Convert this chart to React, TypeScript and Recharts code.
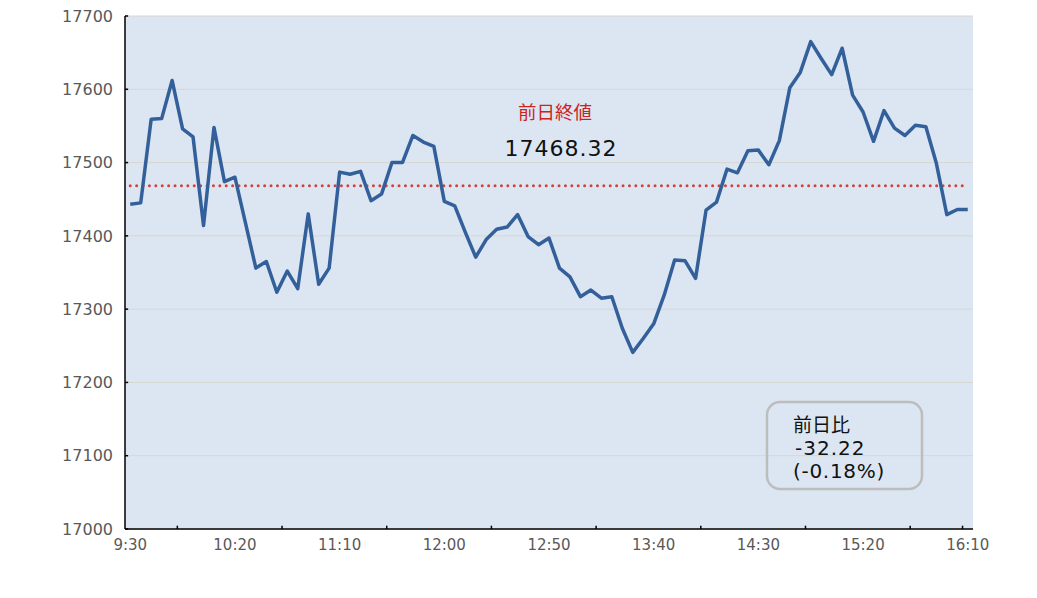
import React from 'react';
import { LineChart, Line, XAxis, YAxis, CartesianGrid, ReferenceLine, Customized } from 'recharts';

const times: string[] = [
  '9:30','9:35','9:40','9:45','9:50','9:55','10:00','10:05','10:10','10:15',
  '10:20','10:25','10:30','10:35','10:40','10:45','10:50','10:55','11:00','11:05',
  '11:10','11:15','11:20','11:25','11:30','11:35','11:40','11:45','11:50','11:55',
  '12:00','12:05','12:10','12:15','12:20','12:25','12:30','12:35','12:40','12:45',
  '12:50','12:55','13:00','13:05','13:10','13:15','13:20','13:25','13:30','13:35',
  '13:40','13:45','13:50','13:55','14:00','14:05','14:10','14:15','14:20','14:25',
  '14:30','14:35','14:40','14:45','14:50','14:55','15:00','15:05','15:10','15:15',
  '15:20','15:25','15:30','15:35','15:40','15:45','15:50','15:55','16:00','16:05',
  '16:10',
];

const prices: number[] = [
  17443, 17445, 17559, 17560, 17612, 17546, 17535, 17414, 17548, 17474,
  17480, 17418, 17356, 17365, 17323, 17352, 17328, 17430, 17334, 17356,
  17487, 17484, 17488, 17448, 17457, 17500, 17500, 17537, 17528, 17522,
  17447, 17441, 17405, 17371, 17395, 17409, 17412, 17429, 17399, 17388,
  17397, 17356, 17344, 17317, 17326, 17315, 17317, 17274, 17241, 17260,
  17280, 17319, 17367, 17366, 17342, 17435, 17446, 17491, 17486, 17516,
  17517, 17497, 17530, 17602, 17623, 17665, 17642, 17620, 17656, 17592,
  17569, 17529, 17571, 17547, 17537, 17551, 17549, 17499, 17429, 17436,
  17436.1,
];

const prevClose = 17468.32;
const prevCloseLabel = '前日終値';
const prevCloseText = '17468.32';
const changeLines: string[] = ['前日比', '-32.22', '(-0.18%)'];

const yTicks: number[] = [17000, 17100, 17200, 17300, 17400, 17500, 17600, 17700];
const xLabelIdx: number[] = [0, 10, 20, 30, 40, 50, 60, 70, 80];
const xMarkIdx: number[] = [4.5, 14.5, 24.5, 34.5, 44.5, 54.5, 64.5, 74.5, 79.5];

const data = times.map((t, i) => ({ idx: i, time: t, value: prices[i] }));

const FONT = '"DejaVu Sans", "Noto Sans CJK JP", sans-serif';
const CJK = '"Noto Sans CJK JP", "DejaVu Sans", sans-serif';

const Annotations = () => (
  <g>
    <text x={555} y={119} textAnchor="middle" fontFamily={CJK} fontSize={18.5} fill="#cc2222">
      {prevCloseLabel}
    </text>
    <text x={561} y={156} textAnchor="middle" fontFamily={FONT} fontSize={22} letterSpacing={1} fill="#111">
      {prevCloseText}
    </text>
    <rect x={767} y={402} width={155} height={87} rx={13} ry={13} fill="none" stroke="#bdbdbd" strokeWidth={2.5} />
    <text x={793} y={432} fontFamily={CJK} fontSize={19} fill="#111">{changeLines[0]}</text>
    <text x={795} y={455} fontFamily={FONT} fontSize={20} letterSpacing={1} fill="#111">{changeLines[1]}</text>
    <text x={793} y={478} fontFamily={FONT} fontSize={20} letterSpacing={0.7} fill="#111">{changeLines[2]}</text>
  </g>
);

export default function App() {
  return (
    <div style={{ position: 'absolute', left: 0, top: 0 }}>
      <LineChart
        width={1037}
        height={598}
        data={data}
        margin={{ top: 16, right: 64, bottom: 39, left: 65 }}
      >
        <CartesianGrid
          vertical={false}
          horizontal={true}
          stroke="#d8d6d0"
          strokeWidth={1}
          fill="#dce6f2"
          fillOpacity={1}
        />
        <XAxis
          dataKey="idx"
          type="number"
          domain={[-0.5, 80.5]}
          ticks={xLabelIdx}
          tickFormatter={(v: number) => times[v] ?? ''}
          interval={0}
          height={30}
          tickLine={false}
          tickMargin={4}
          axisLine={{ stroke: '#000', strokeWidth: 1.5 }}
          tick={{ fill: '#595959', fontSize: 15, fontFamily: FONT }}
          allowDecimals={true}
        />
        <YAxis
          type="number"
          domain={[17000, 17700]}
          ticks={yTicks}
          interval={0}
          width={60}
          tickLine={false}
          tickMargin={6}
          axisLine={{ stroke: '#000', strokeWidth: 1.5 }}
          tick={{ fill: '#595959', fontSize: 16, fontFamily: FONT }}
          allowDataOverflow={true}
        />
        {yTicks.map((t) => (
          <ReferenceLine
            key={'ym' + t}
            ifOverflow="visible"
            segment={[{ x: -0.5, y: t }, { x: -0.2, y: t }]}
            stroke="#000"
            strokeWidth={1.5}
          />
        ))}
        {xMarkIdx.map((t) => (
          <ReferenceLine
            key={'xm' + t}
            ifOverflow="visible"
            segment={[{ x: t, y: 17000 }, { x: t, y: 17004.5 }]}
            stroke="#000"
            strokeWidth={1.5}
          />
        ))}
        <ReferenceLine
          ifOverflow="visible"
          segment={[{ x: 0, y: prevClose }, { x: 80, y: prevClose }]}
          stroke="#d4403a"
          strokeWidth={3}
          strokeDasharray="0 6.4"
          strokeLinecap="round"
        />
        <Line
          type="linear"
          dataKey="value"
          stroke="#33609a"
          strokeWidth={3.5}
          strokeLinejoin="round"
          dot={false}
          activeDot={false}
          isAnimationActive={false}
        />
        <Customized component={Annotations} />
      </LineChart>
    </div>
  );
}
